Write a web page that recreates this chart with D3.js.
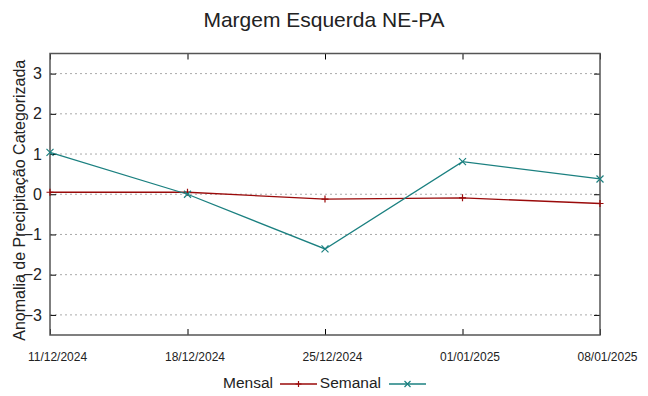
<!DOCTYPE html>
<html>
<head>
<meta charset="utf-8">
<script src="https://cdn.jsdelivr.net/npm/d3@7"></script>
<style>
  body { margin: 0; background: #fff; }
  text { font-family: "Liberation Sans", Arial, sans-serif; fill: #222; }
</style>
</head>
<body>
<div id="grafico"></div>
<script>
const WIDTH = 648;
const HEIGHT = 396;

// dados
const datas = ["2024-12-11", "2024-12-18", "2024-12-25", "2025-01-01", "2025-01-08"];
const rotulos = ["11/12/2024", "18/12/2024", "25/12/2024", "01/01/2025", "08/01/2025"];
const mensal = [0.05, 0.05, -0.12, -0.09, -0.23];
const semanal = [1.04, 0.0, -1.36, 0.81, 0.38];
const yTicks = [-3, -2, -1, 0, 1, 2, 3];

const margem = {left: 50, right: 48, top: 53.5, bottom: 61};
const parse = d3.timeParse("%Y-%m-%d");
const dias = datas.map(parse);

let svg = d3.select("#grafico")
    .append("svg")
    .attr("width", WIDTH)
    .attr("height", HEIGHT);

let x = d3.scaleTime()
    .domain([dias[0], dias[dias.length - 1]])
    .range([margem.left, WIDTH - margem.right]);

let y = d3.scaleLinear()
    .domain([-3.5, 3.5])
    .range([HEIGHT - margem.bottom, margem.top]);

// grade
svg.append("g")
    .selectAll("line")
    .data(yTicks)
    .enter()
    .append("line")
    .attr("x1", margem.left)
    .attr("x2", WIDTH - margem.right)
    .attr("y1", d => y(d))
    .attr("y2", d => y(d))
    .style("stroke", "#aaa")
    .style("stroke-width", 1)
    .style("stroke-dasharray", "2,3");

// eixos
let fmtIdx = d => rotulos[dias.findIndex(t => +t === +d)];

let eixoX = svg.append("g")
    .attr("transform", `translate(0,${y(-3.5)})`)
    .call(d3.axisBottom(x).tickValues(dias).tickFormat(fmtIdx).tickSize(-6).tickPadding(17));
eixoX.selectAll("text")
    .attr("dx", 7)
    .style("font-size", "12px")
    .style("fill", "#222");

svg.append("g")
    .attr("transform", `translate(0,${y(3.5)})`)
    .call(d3.axisTop(x).tickValues(dias).tickFormat("").tickSize(-6));

let eixoY = svg.append("g")
    .attr("transform", `translate(${margem.left},0)`)
    .call(d3.axisLeft(y).tickValues(yTicks).tickFormat(d3.format("d")).tickSize(-6).tickPadding(8));
eixoY.selectAll("text")
    .style("font-size", "16px")
    .style("fill", "#222");

svg.append("g")
    .attr("transform", `translate(${WIDTH - margem.right},0)`)
    .call(d3.axisRight(y).tickValues(yTicks).tickFormat("").tickSize(-6));

svg.selectAll(".domain").style("stroke", "none");
svg.selectAll(".tick line").style("stroke", "#000").style("stroke-width", 1);

// borda
svg.append("rect")
    .attr("x", margem.left)
    .attr("y", margem.top)
    .attr("width", WIDTH - margem.left - margem.right)
    .attr("height", HEIGHT - margem.top - margem.bottom)
    .style("fill", "none")
    .style("stroke", "#555")
    .style("stroke-width", 1.5);

// series
const series = [
    {nome: "Mensal", valores: mensal, cor: "#9a0a0a", marca: "plus"},
    {nome: "Semanal", valores: semanal, cor: "#1b8080", marca: "cross"}
];

let linha = d3.line()
    .x((d, i) => x(dias[i]))
    .y(d => y(d));

function marcador(g, tipo, cx, cy, cor, s) {
    if (tipo == "plus") {
        g.append("path")
            .attr("d", `M${cx - s},${cy}H${cx + s}M${cx},${cy - s}V${cy + s}`)
            .style("stroke", cor).style("stroke-width", 1.2).style("fill", "none");
    } else {
        g.append("path")
            .attr("d", `M${cx - s},${cy - s}L${cx + s},${cy + s}M${cx - s},${cy + s}L${cx + s},${cy - s}`)
            .style("stroke", cor).style("stroke-width", 1.2).style("fill", "none");
    }
}

series.forEach(s => {
    let g = svg.append("g");
    g.append("path")
        .datum(s.valores)
        .attr("d", linha)
        .style("fill", "none")
        .style("stroke", s.cor)
        .style("stroke-width", 1.3);
    s.valores.forEach((v, i) => marcador(g, s.marca, x(dias[i]), y(v), s.cor, 3.5));
});

// titulo
svg.append("text")
    .attr("x", 324)
    .attr("y", 27)
    .attr("text-anchor", "middle")
    .style("font-size", "21px")
    .text("Margem Esquerda NE-PA");

svg.append("text")
    .attr("transform", `translate(24.5,${(margem.top + HEIGHT - margem.bottom) / 2 + 6}) rotate(-90)`)
    .attr("text-anchor", "middle")
    .style("font-size", "16px")
    .text("Anomalia de Precipitação Categorizada");

// legenda
let leg = [
    {nome: "Mensal", tx: 273, lx1: 280, lx2: 317},
    {nome: "Semanal", tx: 381, lx1: 389, lx2: 426}
];
leg.forEach((l, i) => {
    svg.append("text")
        .attr("x", l.tx)
        .attr("y", 388)
        .attr("text-anchor", "end")
        .style("font-size", "15.5px")
        .text(l.nome);
    svg.append("line")
        .attr("x1", l.lx1).attr("x2", l.lx2)
        .attr("y1", 384).attr("y2", 384)
        .style("stroke", series[i].cor)
        .style("stroke-width", 1.3);
    marcador(svg, series[i].marca, (l.lx1 + l.lx2) / 2, 384, series[i].cor, 3);
});
</script>
</body>
</html>
